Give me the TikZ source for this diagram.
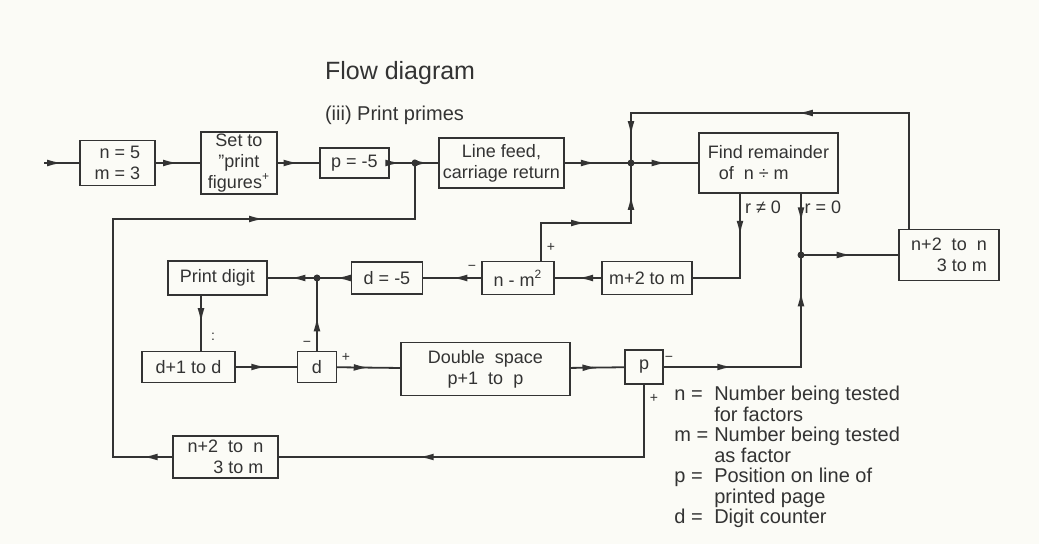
\documentclass[tikz,border=0pt]{standalone}
\usepackage{fontspec}
\setmainfont{Liberation Sans}
\usetikzlibrary{arrows.meta,decorations.markings,positioning}
\definecolor{ink}{HTML}{333333}
\definecolor{paper}{HTML}{FBFBF6}

\begin{document}
\begin{tikzpicture}[x=0.5pt, y=-0.5pt,
    every node/.style={text=ink, font=\fontsize{9}{10.5}\selectfont},
    box/.style={draw=ink, line width=0.7pt, inner sep=1pt},
    junc/.style={circle, fill=ink, inner sep=0pt, minimum size=3.5pt},
    line/.style={draw=ink, line width=0.9pt, line cap=rect},
    flow/.style={line, postaction={decorate}, decoration={markings,
        mark=at position #1 with {\arrow[ink]{Latex[length=7.5pt,width=3.4pt]}}}},
    flow/.default=0.5,
    sign/.style={font=\fontsize{7}{7}\selectfont},
    legend/.style={anchor=north west, inner sep=0pt, font=\fontsize{10}{10}\selectfont}]
    \fill[paper] (0,0) rectangle (1039,544);

    % headings
    \node[anchor=west, font=\fontsize{12.5}{14}\selectfont] (title) at (318,73) {Flow diagram};
    \node[anchor=west, font=\fontsize{10}{12}\selectfont] (subtitle) at (318,115) {(iii) Print primes};

    % top row
    \coordinate (start) at (45,163);
    \node[box, minimum width=37.5pt, minimum height=22.5pt, align=right] (init) at (117.5,163) {n = 5\\m = 3};
    \node[box, minimum width=38pt, minimum height=30pt, align=center] (setto) at (239,163) {Set to\\”print\\figures\textsuperscript{+}};
    \node[box, minimum width=34.5pt, minimum height=15pt] (pset) at (354.5,163) {p = -5};
    \node[junc] (dotA) at (415,163) {};
    \node[box, minimum width=62.5pt, minimum height=25pt, align=center] (linefeed) at (501.5,163) {Line feed,\\carriage return};
    \node[junc] (dotB) at (631,163) {};
    \node[box, minimum width=69.5pt, minimum height=30pt, align=left] (findrem) at (768.5,163) {Find remainder\\\hspace*{0.6em}of \ n ÷ m};
    \coordinate (tl) at (631,113);
    \coordinate (tr) at (909,113);

    % right side
    \node[junc] (dotC) at (801,255) {};
    \node[box, minimum width=50pt, minimum height=25.5pt, align=right] (nplus) at (949,255) {n+2 \ to \ n\\3 to m};

    % second row
    \node[box, minimum width=45pt, minimum height=16.5pt] (mplus) at (647,278) {m+2 to m};
    \node[box, minimum width=36pt, minimum height=16.5pt] (nminus) at (518,278) {n - m\textsuperscript{2}};
    \node[box, minimum width=35.5pt, minimum height=16pt] (dset) at (387,278) {d = -5};
    \node[junc] (dotD) at (317,278) {};
    \node[box, minimum width=49.5pt, minimum height=17pt] (printdigit) at (217.5,278) {Print digit};
    \coordinate (up) at (541,223);
    \coordinate (rne) at (740,278);

    % third row
    \node[box, minimum width=46.5pt, minimum height=15.5pt] (dinc) at (188.5,367) {d+1 to d};
    \node[box, minimum width=19.5pt, minimum height=15.5pt] (dtest) at (317,367) {d};
    \node[box, minimum width=84.5pt, minimum height=26.5pt, align=center] (dspace) at (485.5,369) {Double \ space\\p+1 \ to \ p};
    \node[box, minimum width=19pt, minimum height=17pt] (ptest) at (644,367) {p};
    \coordinate (pd) at (201,300);
    \coordinate (pc) at (801,367);

    % bottom row
    \node[box, minimum width=52.5pt, minimum height=21pt, align=right] (nplusb) at (225.5,457) {n+2 \ to \ n\\3 to m};
    \coordinate (ll) at (113,457);
    \coordinate (lu) at (113,219);

    % connectors
    \draw[flow] (start) -- (init);
    \draw[flow] (init) -- (setto);
    \draw[flow] (setto) -- (pset);
    \draw[flow] (pset) -- (dotA);
    \draw[flow] (dotA) -- (linefeed);
    \draw[flow] (linefeed) -- (dotB);
    \draw[flow] (dotB) -- (findrem);
    \draw[line] (nplus.north -| tr) -- (tr);
    \draw[flow=0.4] (tr) -- (tl);
    \draw[flow] (tl) -- (dotB);
    \draw[line] (up |- nminus.north) -- (up);
    \draw[flow] (up) -- (up -| dotB);
    \draw[flow] (up -| dotB) -- (dotB);
    \draw[flow] (rne |- findrem.south) -- (rne);
    \draw[line] (rne) -- (mplus);
    \draw[flow] (findrem.south -| dotC) -- (dotC);
    \draw[flow] (dotC) -- (nplus);
    \draw[flow] (mplus) -- (nminus);
    \draw[flow] (nminus) -- (dset);
    \draw[flow] (dset) -- (dotD);
    \draw[flow] (dotD) -- (printdigit);
    \draw[flow] (printdigit.south -| pd) -- (dinc.north -| pd);
    \draw[flow] (dinc) -- (dtest);
    \draw[flow] (dtest) -- (dotD);
    \draw[flow] (dtest) -- (dspace);
    \draw[flow] (dspace) -- (ptest);
    \draw[flow] (ptest) -- (pc);
    \draw[flow=0.7] (pc) -- (dotC);
    \draw[flow=0.68] (ptest) |- (nplusb);
    \draw[flow] (nplusb) -- (ll);
    \draw[line] (ll) -- (lu);
    \draw[flow] (lu) -- (lu -| dotA);
    \draw[line] (lu -| dotA) -- (dotA);

    % branch labels
    \node[sign] (plusA) at (551,247) {+};
    \node[sign] (minusA) at (472,268) {−};
    \node (rneq) at (763,207) {r ≠ 0};
    \node (req) at (823,207) {r = 0};
    \node[sign] (colon) at (213,337) {:};
    \node[sign] (minusD) at (307,344) {−};
    \node[sign] (plusD) at (346,357) {+};
    \node[sign] (minusP) at (669,359) {−};
    \node[sign] (plusP) at (654,398) {+};

    % key
    \node[legend] (key) at (674,386) {%
        \begin{tabular}{@{}l@{\hspace{3pt}}l@{}}
        n = & Number being tested\\
            & for factors\\
        m = & Number being tested\\
            & as factor\\
        p = & Position on line of\\
            & printed page\\
        d = & Digit counter
        \end{tabular}};
\end{tikzpicture}
\end{document}
